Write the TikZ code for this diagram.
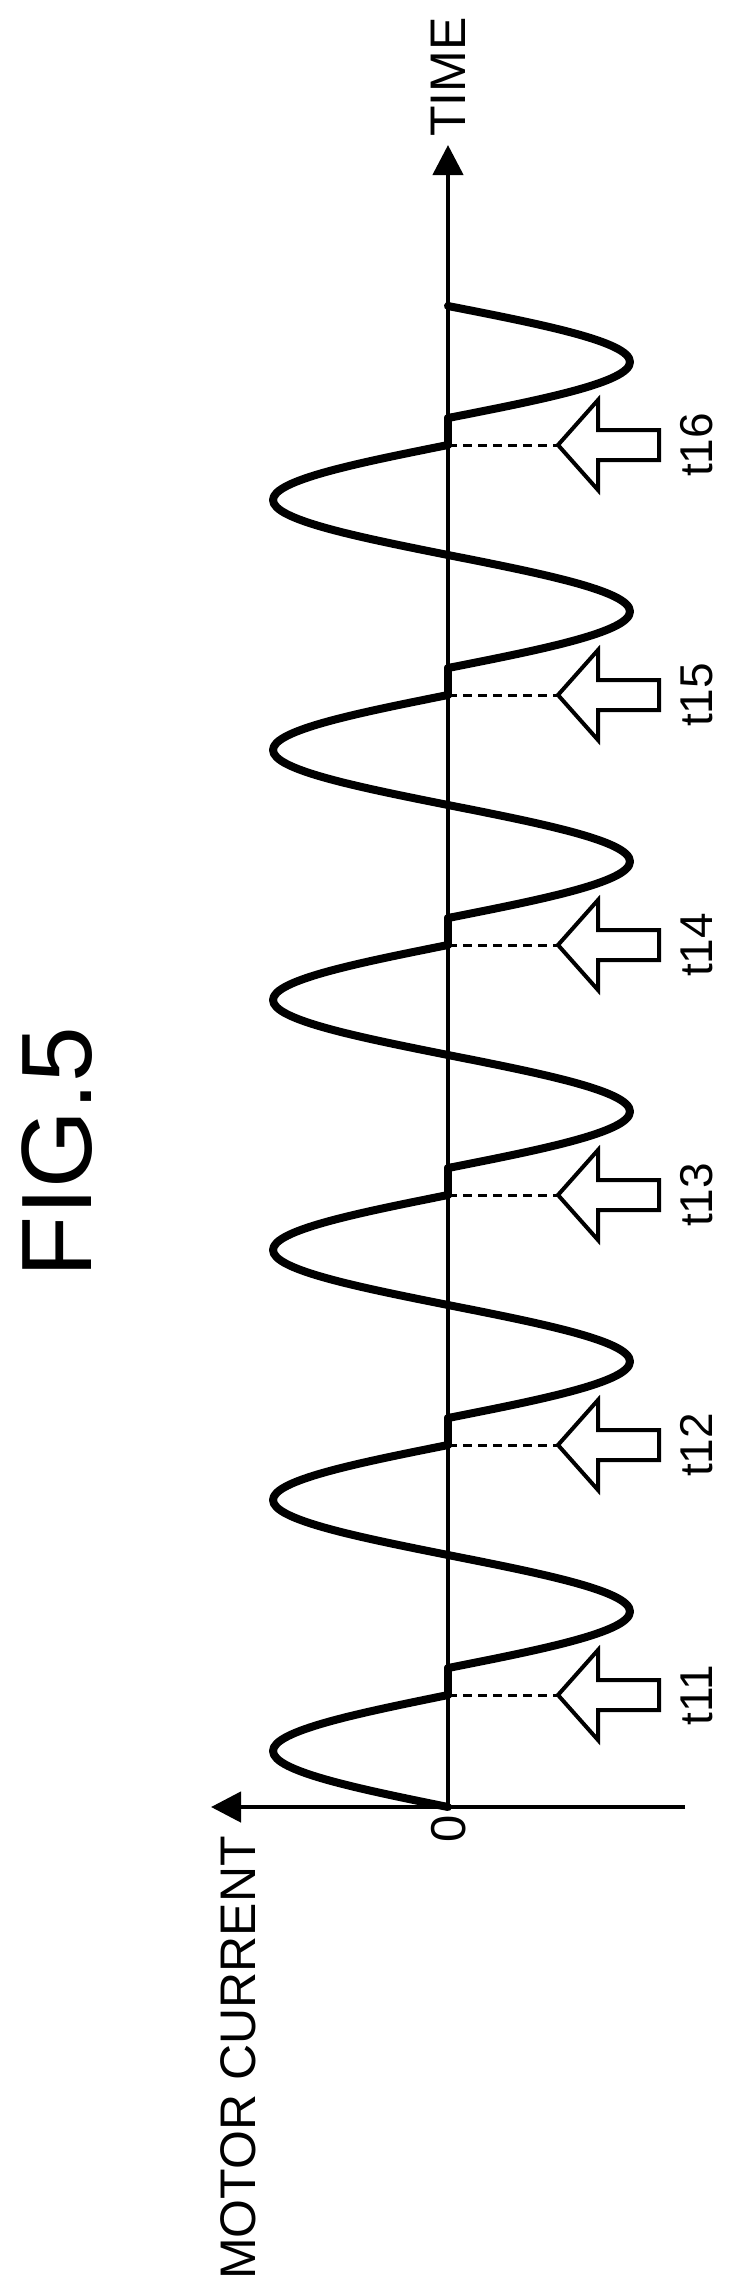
\documentclass[tikz,border=0pt]{standalone}
\usepackage{fontspec}
\setmainfont{Liberation Sans}
\usetikzlibrary{arrows.meta}
\newcommand\mylobe[3]{%
 \pgfmathsetmacro\myS{#1}\pgfmathsetmacro\myQ{#2/2}\pgfmathsetmacro\myA{#3}%
 \draw[wave] (448,\myS) .. controls ({448+0.5123*\myA},{\myS-0.326*\myQ}) and ({448+\myA},{\myS-0.6366*\myQ}) .. ({448+\myA},{\myS-\myQ}) .. controls ({448+\myA},{\myS-1.3634*\myQ}) and ({448+0.5123*\myA},{\myS-1.674*\myQ}) .. (448,{\myS-2*\myQ});}
\begin{document}
\begin{tikzpicture}[x=1pt,y=-1pt,
  axisline/.style={line width=4.5pt,-{Triangle[length=30pt,width=30pt]}},
  wave/.style={line width=8pt,line cap=round,line join=round},
  blockarrow/.style={draw,line width=4pt,fill=white,line join=miter},
  guide/.style={line width=3pt,dash pattern=on 9pt off 6pt},
  lab/.style={rotate=90,font=\fontsize{46}{46}\selectfont,inner sep=0pt}]
\useasboundingbox (0,0) rectangle (735,2292);
\coordinate (o) at (448,1807);
\coordinate (tend) at (448,145);
\coordinate (iend) at (211,1807);
\coordinate (iright) at (685,1807);
\draw[axisline] (o) -- (tend);
\draw[axisline] (iright) -- (iend);
\node[lab,font=\fontsize{50}{50}\selectfont] (time) at (448,77) {TIME};
\node[lab,font=\fontsize{50}{50}\selectfont] (mc) at (238,2058) {MOTOR CURRENT};
\node[lab,font=\fontsize{49}{49}\selectfont] (zero) at (449,1829) {0};
\node[lab,font=\fontsize{100}{100}\selectfont] (fig) at (57,1152) {FIG.5};
% wave
\mylobe{1807}{112}{-175}
\foreach \k in {0,...,4}{
  \pgfmathsetmacro{\segs}{1668-250*\k}
  \draw[wave] (448,\segs+27) -- (448,\segs);
  \mylobe{\segs}{113}{182}
  \mylobe{\segs-113}{110}{-175}
}
\draw[wave] (448,445) -- (448,418);
\mylobe{418}{112}{182}
% event arrows
\foreach \k/\tt in {11/1695,12/1445,13/1195,14/945,15/695,16/445}{
  \coordinate (ax\k) at (448,\tt);
  \coordinate (tip\k) at (558,\tt);
  \draw[guide] (ax\k) -- (tip\k);
  \draw[blockarrow] (tip\k) -- (598,\tt-45) -- (598,\tt-15) -- (659,\tt-15) -- (659,\tt+15) -- (598,\tt+15) -- (598,\tt+45) -- cycle;
  \node[lab] (lab\k) at (697,\tt) {t\k};
}
\end{tikzpicture}
\end{document}
